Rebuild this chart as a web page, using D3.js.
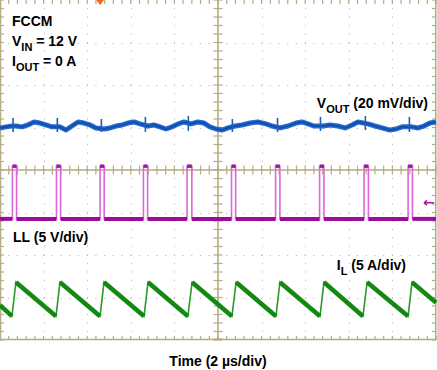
<!DOCTYPE html>
<html>
<head>
<meta charset="utf-8">
<script src="https://cdn.jsdelivr.net/npm/d3@7/dist/d3.min.js"></script>
<style>
  html, body { margin: 0; padding: 0; background: #fff; }
  svg { display: block; }
  text { font-family: "Liberation Sans", Arial, sans-serif; font-weight: bold; fill: #000; }
</style>
</head>
<body>
<svg id="chart" width="437" height="370"></svg>
<script>
// ---------------- DATA ----------------
// time axis: 2 µs/div, 10 divisions
const timeDomain = [0, 20];          // µs
const divDomain = [-4, 4];           // vertical divisions

// VOUT ripple (mV, AC) at 20 mV/div
const voutTime = [0,0.28,0.55,0.73,1.01,1.28,1.56,1.83,2.11,2.39,2.75,3.03,3.30,3.58,3.85,4.13,4.40,4.77,5.05,5.32,5.60,5.87,6.15,6.42,6.79,7.06,7.34,7.61,7.89,8.17,8.44,8.76,9.08,9.36,9.63,9.91,10.18,10.46,10.78,11.10,11.47,11.83,12.20,12.48,12.84,13.21,13.58,13.85,14.13,14.40,14.82,15.14,15.50,15.83,16.15,16.42,16.88,17.20,17.52,17.89,18.17,18.44,18.90,19.17,19.45,19.72,20.0];
const voutMv   = [-1.4,-0.9,-0.5,-0.5,-0.9,0,1.4,0.9,0,-0.9,-0.9,-2.4,-0.5,1.4,0.9,0,-1.4,-1.9,-1.4,-0.5,0,0.9,1.4,0.5,-0.5,0,-0.9,-1.9,-0.9,0.5,1.4,0.5,1.4,0.9,-0.9,-1.9,-2.4,-1.4,-0.5,0,0.9,1.4,0.5,-0.5,-1.4,-0.5,0.9,1.4,0.5,-0.5,-0.5,0,-0.5,-1.4,0,1.4,0.5,-0.5,-1.4,-2.4,-1.9,-0.9,-0.9,-1.4,-0.5,0.9,1.4];
// switching spikes on VOUT
const spikeTime = [0.60, 2.63, 4.65, 6.67, 8.64, 10.66, 12.73, 14.70, 16.76, 18.78];
const spikeHigh = [3.3, 3.3, 2.8, 3.8, 4.2, 2.8, 3.3, 3.8, 4.2, 3.8];
const spikeLow  = [-3.3, -3.3, -3.3, -3.3, -2.8, -3.3, -3.3, -2.8, -2.4, -3.3];

// LL switch node (V) at 5 V/div
const llRise = [0.57, 2.59, 4.59, 6.58, 8.58, 10.62, 12.64, 14.66, 16.70, 18.72];
const llFall = [0.76, 2.78, 4.78, 6.77, 8.80, 10.81, 12.84, 14.86, 16.90, 18.92];
const llLow = 0;
const llHigh = 6.2;

// IL inductor current (A) at 5 A/div
const ilTime = [0, 0.55, 0.73, 2.57, 2.75, 4.59, 4.77, 6.61, 6.79, 8.62, 8.81, 10.64, 10.83, 12.66, 12.84, 14.68, 14.86, 16.65, 16.84, 18.72, 18.90, 20];
const ilAmp  = [-0.7, -2.0, 2.0, -2.0, 2.0, -2.0, 2.0, -2.0, 2.0, -2.0, 2.0, -2.0, 2.0, -2.0, 2.0, -2.0, 2.0, -2.0, 2.0, -2.0, 2.0, -0.4];

// Channel scales and offsets
const voutScale = 20, llScale = 5, ilScale = 5;   // units per division
const voutOffset = 1.06, llOffset = -1.15, ilOffset = -3.04; // divisions

// ---------------- CHART ----------------
const W = 436, H = 340;
const svg = d3.select("#chart");
const x = d3.scaleLinear().domain(timeDomain).range([0, W]);
const y = d3.scaleLinear().domain(divDomain).range([H, 0]);

const gridCol = "#bcbcbc";
const axisCol = "#b3ab83";

const g = svg.append("g");

// dotted grid at major divisions
const xMaj = d3.range(1, 10).filter(d => d !== 5).map(d => d * 2);
const yMaj = d3.range(-3, 4).filter(d => d !== 0);
const minorX = (x(0.4) - x(0));
const minorY = (y(0) - y(0.2));
g.selectAll(".vg").data(xMaj).enter().append("line")
  .attr("x1", d => Math.round(x(d)) + 0.5).attr("x2", d => Math.round(x(d)) + 0.5)
  .attr("y1", 0).attr("y2", H)
  .attr("stroke", gridCol).attr("stroke-width", 1)
  .attr("stroke-dasharray", `1.2,${(minorY - 1.2).toFixed(2)}`)
  .attr("stroke-dashoffset", 0.6);
g.selectAll(".hg").data(yMaj).enter().append("line")
  .attr("y1", d => Math.round(y(d)) + 0.5).attr("y2", d => Math.round(y(d)) + 0.5)
  .attr("x1", 0).attr("x2", W)
  .attr("stroke", gridCol).attr("stroke-width", 1)
  .attr("stroke-dasharray", `1.2,${(minorX - 1.2).toFixed(2)}`)
  .attr("stroke-dashoffset", 0.6);

// center axes
const cx = x(10), cy = y(0);
g.append("line").attr("x1", 0).attr("x2", W).attr("y1", cy).attr("y2", cy)
  .attr("stroke", axisCol).attr("stroke-width", 1.6);
g.append("line").attr("x1", cx).attr("x2", cx).attr("y1", 0).attr("y2", H)
  .attr("stroke", axisCol).attr("stroke-width", 1.6);

// border lines
g.append("line").attr("x1", 0.5).attr("x2", 0.5).attr("y1", 0).attr("y2", H).attr("stroke", axisCol).attr("stroke-width", 1.5);
g.append("line").attr("x1", W - 0.3).attr("x2", W - 0.3).attr("y1", 0).attr("y2", H).attr("stroke", axisCol).attr("stroke-width", 1.5);
g.append("line").attr("x1", 0).attr("x2", W).attr("y1", H - 0.5).attr("y2", H - 0.5).attr("stroke", axisCol).attr("stroke-width", 1.5);

// minor ticks
const xMinor = d3.range(0, 51).map(d => d * 0.4);
const yMinor = d3.range(-20, 21).map(d => d * 0.2);
const tick = (x1, y1, x2, y2) => g.append("line").attr("x1", x1).attr("y1", y1).attr("x2", x2).attr("y2", y2)
  .attr("stroke", axisCol).attr("stroke-width", 1.2);
xMinor.forEach(t => {
  const px = x(t);
  tick(px, 0, px, 4);
  tick(px, H - 4, px, H);
  tick(px, cy - 4.5, px, cy + 4.5);
});
yMinor.forEach(v => {
  const py = y(v);
  tick(0, py, 4, py);
  tick(W - 4, py, W, py);
  tick(cx - 4.5, py, cx + 4.5, py);
});
tick(cx - 4.5, H - 1, cx + 4.5, H - 1);

// ---------------- TRACES ----------------
const voutY = v => y(voutOffset + v / voutScale);
const llY = v => y(llOffset + v / llScale);
const ilY = a => y(ilOffset + a / ilScale);

// VOUT
const voutData = voutTime.map((t, i) => [t, voutMv[i]]);
const lineV = d3.line().x(d => x(d[0])).y(d => voutY(d[1]));
g.append("path").datum(voutData).attr("d", lineV)
  .attr("fill", "none").attr("stroke", "#2a6ccc").attr("stroke-width", 5)
  .attr("stroke-linejoin", "round");
g.append("path").datum(voutData).attr("d", lineV)
  .attr("fill", "none").attr("stroke", "#0f50b2").attr("stroke-width", 2.2);
g.selectAll(".vsp").data(spikeTime).enter().append("line")
  .attr("x1", d => x(d)).attr("x2", d => x(d))
  .attr("y1", (d, i) => voutY(spikeHigh[i])).attr("y2", (d, i) => voutY(spikeLow[i]))
  .attr("stroke", "#1a5cc0").attr("stroke-width", 1.6);

// LL
const llPts = [[0, llLow]];
llRise.forEach((r, i) => {
  llPts.push([r, llLow], [r, llHigh], [llFall[i], llHigh], [llFall[i], llLow]);
});
llPts.push([20, llLow]);
const lineL = d3.line().x(d => x(d[0])).y(d => llY(d[1]));
g.append("path").datum(llPts).attr("d", lineL)
  .attr("fill", "none").attr("stroke", "#dd66dd").attr("stroke-width", 1.6);
const lowSegs = [];
let prev = 0;
llRise.forEach((r, i) => { lowSegs.push([[prev, llLow], [r, llLow]]); prev = llFall[i]; });
lowSegs.push([[prev, llLow], [20, llLow]]);
g.selectAll(".lls").data(lowSegs).enter().append("path")
  .attr("d", lineL).attr("fill", "none").attr("stroke", "#9c0c98").attr("stroke-width", 4);
const topSegs = llRise.map((r, i) => [[r, llHigh], [llFall[i], llHigh]]);
g.selectAll(".llt").data(topSegs).enter().append("path")
  .attr("d", lineL).attr("fill", "none").attr("stroke", "#a0189e").attr("stroke-width", 3.5);

// IL
const ilData = ilTime.map((t, i) => [t, ilAmp[i]]);
const lineI = d3.line().x(d => x(d[0])).y(d => ilY(d[1]));
g.append("path").datum(ilData).attr("d", lineI)
  .attr("fill", "none").attr("stroke", "#2a9a2a").attr("stroke-width", 1.6);
const fallSegs = [];
for (let i = 0; i < ilTime.length - 1; i++) {
  if (ilAmp[i + 1] < ilAmp[i]) fallSegs.push([[ilTime[i], ilAmp[i]], [ilTime[i + 1], ilAmp[i + 1]]]);
}
g.selectAll(".ilf").data(fallSegs).enter().append("path")
  .attr("d", lineI).attr("fill", "none").attr("stroke", "#128a12").attr("stroke-width", 4.5)
  .attr("stroke-linecap", "butt");

// markers
const trigT = 4.59;
svg.append("path")
  .attr("d", `M${x(trigT) - 4},0 L${x(trigT) + 4},0 L${x(trigT)},5 Z`)
  .attr("fill", "#f26a24");
const arrowY = llY(1.9);
svg.append("path")
  .attr("d", `M${W - 2},${arrowY} L${W - 12},${arrowY} M${W - 12},${arrowY} L${W - 9},${arrowY - 2.5} M${W - 12},${arrowY} L${W - 9},${arrowY + 2.5}`)
  .attr("stroke", "#a0189e").attr("stroke-width", 1.5).attr("fill", "none");

// ---------------- TEXT ----------------
const fs = 14, sub = 11;
function label(tx, ty, parts, anchor) {
  const t = svg.append("text").attr("x", tx).attr("y", ty).attr("font-size", fs)
    .attr("text-anchor", anchor || "start");
  parts.forEach(p => {
    const s = t.append("tspan").text(p[0]);
    if (p[1] === "sub") s.attr("font-size", sub).attr("dy", 5);
    else if (p[1] === "up") s.attr("dy", -5);
  });
  return t;
}
label(12, 26, [["FCCM"]]);
label(12, 46, [["V"], ["IN", "sub"], [" = 12 V", "up"]]);
label(12, 66, [["I"], ["OUT", "sub"], [" = 0 A", "up"]]);
label(428, 108, [["V"], ["OUT", "sub"], [" (20 mV/div)", "up"]], "end");
label(13, 242, [["LL (5 V/div)"]]);
label(406, 270, [["I"], ["L", "sub"], [" (5 A/div)", "up"]], "end");
svg.append("text").attr("x", 218).attr("y", 366).attr("font-size", fs)
  .attr("text-anchor", "middle").text("Time (2 \u00b5s/div)");
</script>
</body>
</html>
